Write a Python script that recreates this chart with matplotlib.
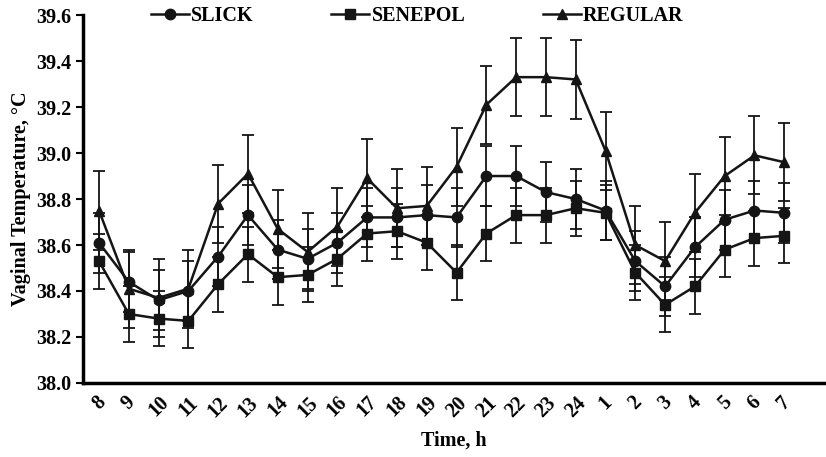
import matplotlib
matplotlib.use('Agg')
import matplotlib.pyplot as plt

# 时间点（小时）
hours = ['8', '9', '10', '11', '12', '13', '14', '15', '16', '17', '18', '19',
         '20', '21', '22', '23', '24', '1', '2', '3', '4', '5', '6', '7']

# 各品种阴道温度均值
slick = [38.61, 38.44, 38.36, 38.40, 38.55, 38.73, 38.58, 38.54, 38.61, 38.72, 38.72, 38.73,
         38.72, 38.90, 38.90, 38.83, 38.80, 38.75, 38.53, 38.42, 38.59, 38.71, 38.75, 38.74]
senepol = [38.53, 38.30, 38.28, 38.27, 38.43, 38.56, 38.46, 38.47, 38.54, 38.65, 38.66, 38.61,
           38.48, 38.65, 38.73, 38.73, 38.76, 38.74, 38.48, 38.34, 38.42, 38.58, 38.63, 38.64]
regular = [38.75, 38.41, 38.37, 38.41, 38.78, 38.91, 38.67, 38.57, 38.68, 38.89, 38.76, 38.77,
           38.94, 39.21, 39.33, 39.33, 39.32, 39.01, 38.60, 38.53, 38.74, 38.90, 38.99, 38.96]

# 标准误
slick_err = [0.13] * 24
senepol_err = [0.12] * 24
regular_err = [0.17] * 24

plt.rcParams['font.family'] = ['Liberation Serif', 'DejaVu Serif']
plt.rcParams['font.weight'] = 'bold'
fs = 14.5

fig = plt.figure(figsize=(8.26, 4.57), dpi=100)
ax = fig.add_axes([0.1, 0.162, 0.9, 0.805])

x = list(range(len(hours)))
series = [(slick, slick_err, 'o', 'SLICK'),
          (senepol, senepol_err, 's', 'SENEPOL'),
          (regular, regular_err, '^', 'REGULAR')]
for vals, err, mk, name in series:
    ax.errorbar(x, vals, yerr=err, color='#151515', marker=mk, markersize=7.5,
                linewidth=1.8, elinewidth=1.3, capsize=4, capthick=1.3, label=name)

ax.set_ylim(38.0, 39.6)
ax.set_xlim(-0.55, 24.4)
ax.set_yticks([38.0, 38.2, 38.4, 38.6, 38.8, 39.0, 39.2, 39.4, 39.6])
ax.set_yticklabels([f'{v:.1f}' for v in ax.get_yticks()], fontsize=fs, fontweight='bold')
ax.set_xticks(x)
ax.set_xticklabels(hours, rotation=45, fontsize=fs, fontweight='bold')
ax.tick_params(axis='x', length=0, pad=7)
ax.tick_params(axis='y', length=5, width=1.5, pad=3)
ax.spines['top'].set_visible(False)
ax.spines['right'].set_visible(False)
ax.spines['left'].set_linewidth(2.5)
ax.spines['bottom'].set_linewidth(2.5)
ax.set_ylabel('Vaginal Temperature, °C', fontsize=fs, fontweight='bold', labelpad=4)
ax.set_xlabel('Time, h', fontsize=fs, fontweight='bold', labelpad=7)

handles, labels = ax.get_legend_handles_labels()
handles = [h[0] for h in handles]
fig.legend(handles, labels, loc='center', bbox_to_anchor=(0.505, 0.965), ncol=3,
           frameon=False, columnspacing=3.85, handlelength=1.9,
           handletextpad=0.1, prop={'weight': 'bold', 'size': fs})

plt.savefig('out.png', dpi=100)
plt.close()
